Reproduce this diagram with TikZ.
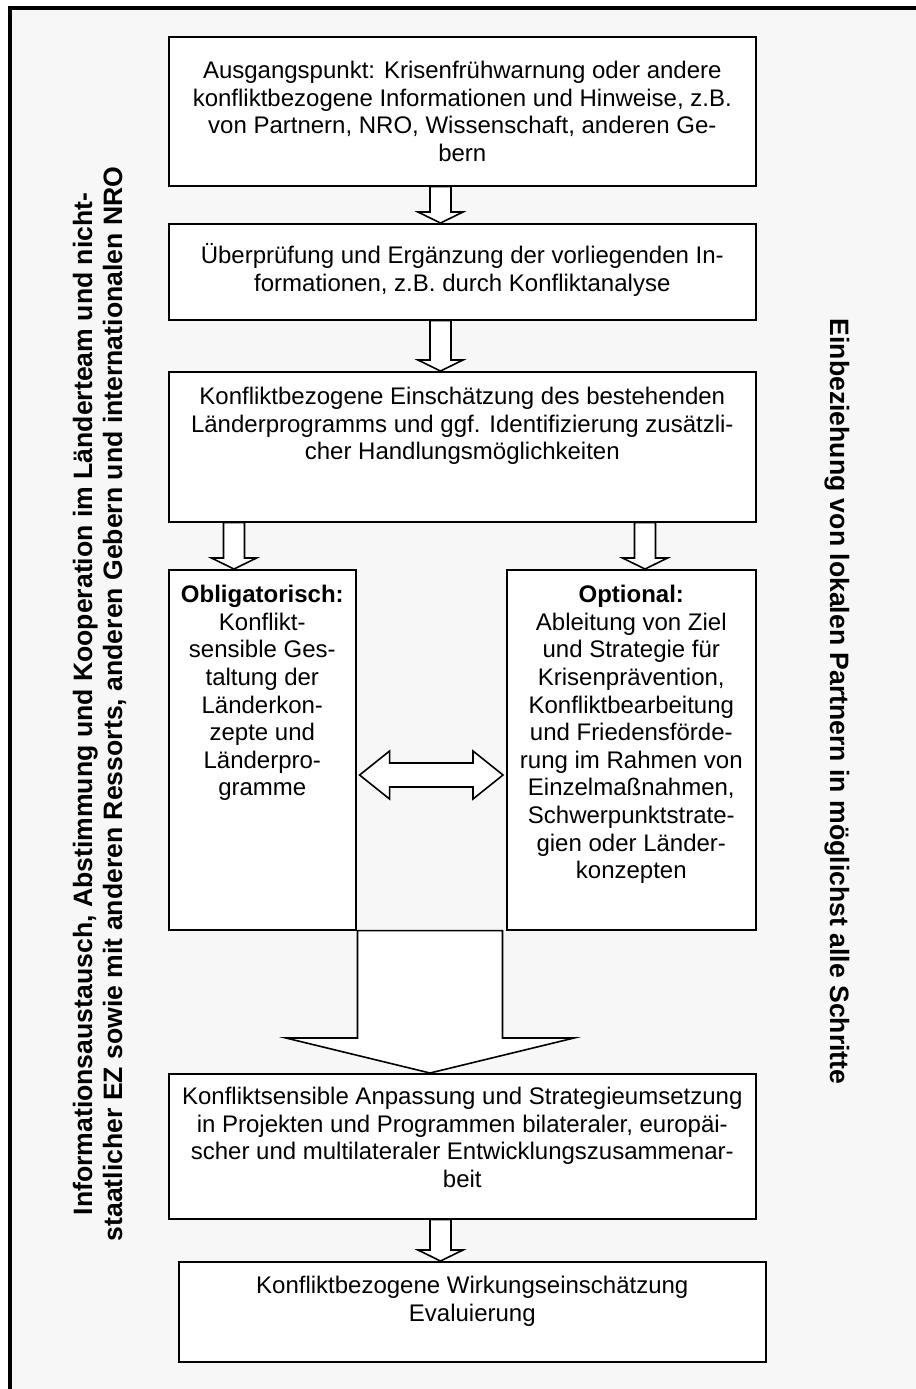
\documentclass[tikz,border=0pt]{standalone}
\usepackage{fontspec}
\setmainfont{Liberation Sans}
\usetikzlibrary{calc}
\definecolor{framegrey}{HTML}{F7F7F7}
% Kasteninhalt: Breite, Hoehe, Abstand oben, Text
\newcommand{\boxtext}[4]{\parbox[c][#2][t]{#1}{\vspace*{#3}\centering\strut#4}}
\tikzset{
	stepbox/.style = {draw=black, fill=white, line width=0.8pt, inner sep=0pt,
		anchor=north west, font=\fontsize{12}{13.8}\selectfont},% Kasten
	sidetext/.style = {align=center, inner sep=0pt, anchor=base,
		font=\fontsize{13.3}{15}\selectfont\bfseries},% Randtext
	blockdown/.style n args = {3}{draw=black, fill=white, line width=0.8pt,
		to path={-- ($(\tikztostart)+(#1,0)$) -- ($(\tikztotarget)+(#1,-#3)$)
			-- ($(\tikztotarget)+(#2,-#3)$) -- (\tikztotarget)
			-- ($(\tikztotarget)+(-#2,-#3)$) -- ($(\tikztotarget)+(-#1,-#3)$)
			-- ($(\tikztostart)+(-#1,0)$) -- cycle}},% Blockpfeil nach unten
	blockboth/.style n args = {3}{draw=black, fill=white, line width=0.8pt,
		to path={-- ($(\tikztostart)+(#3,-#2)$) -- ($(\tikztostart)+(#3,-#1)$)
			-- ($(\tikztotarget)+(-#3,-#1)$) -- ($(\tikztotarget)+(-#3,-#2)$)
			-- (\tikztotarget) -- ($(\tikztotarget)+(-#3,#2)$)
			-- ($(\tikztotarget)+(-#3,#1)$) -- ($(\tikztostart)+(#3,#1)$)
			-- ($(\tikztostart)+(#3,#2)$) -- cycle}}% Doppelpfeil
}

\begin{document}
\begin{tikzpicture}[x=0.5pt, y=-0.5pt]
	\useasboundingbox (0,0) rectangle (916,1389);
	\fill[white] (0,0) rectangle (916,1389);
	\draw[line width=2pt, fill=framegrey] (9.5,8) rectangle (940,1420);
	% Achsen der Pfeile
	\coordinate (ax1) at (440.5,0);
	\coordinate (ax2) at (234,0);
	\coordinate (ax3) at (645,0);
	\coordinate (ax4) at (430,0);
	\coordinate (dbl) at (0,775);
	% Kaesten
	\node[stepbox] (start) at (168,36) {\boxtext{293.5pt}{74.5pt}{11.3pt}{Ausgangspunkt: Krisenfrühwarnung oder andere\\konfliktbezogene Informationen und Hinweise, z.B.\\von Partnern, NRO, Wissenschaft, anderen Ge-\\bern}};
	\node[stepbox] (check) at (168,223) {\boxtext{293.5pt}{48pt}{9.8pt}{Überprüfung und Ergänzung der vorliegenden In-\\formationen, z.B. durch Konfliktanalyse}};
	\node[stepbox] (assess) at (168,371) {\boxtext{293.5pt}{75pt}{6.8pt}{Konfliktbezogene Einschätzung des bestehenden\\Länderprogramms und ggf. Identifizierung zusätzli-\\cher Handlungsmöglichkeiten}};
	\node[stepbox] (oblig) at (168,569) {\boxtext{93.5pt}{180pt}{6.8pt}{\textbf{Obligatorisch:}\\Konflikt-\\sensible Ges-\\taltung der\\Länderkon-\\zepte und\\Länderpro-\\gramme}};
	\node[stepbox] (option) at (506,569) {\boxtext{124.5pt}{180pt}{6.8pt}{\textbf{Optional:}\\Ableitung von Ziel\\und Strategie für\\Krisenprävention,\\Konfliktbearbeitung\\und Friedensförde-\\rung im Rahmen von\\Einzelmaßnahmen,\\Schwerpunktstrate-\\gien oder Länder-\\konzepten}};
	\node[stepbox] (adapt) at (168,1073) {\boxtext{293.5pt}{72.5pt}{5.8pt}{Konfliktsensible Anpassung und Strategieumsetzung\\in Projekten und Programmen bilateraler, europäi-\\scher und multilateraler Entwicklungszusammenar-\\beit}};
	\node[stepbox] (evaluate) at (178,1261) {\boxtext{293.5pt}{50pt}{6.3pt}{Konfliktbezogene Wirkungseinschätzung\\Evaluierung}};
	% Pfeile
	\draw[blockdown={10.5}{22.5}{11}] (start.south -| ax1) to (check.north -| ax1);
	\draw[blockdown={10.5}{22.5}{11}] (check.south -| ax1) to (assess.north -| ax1);
	\draw[blockdown={10.5}{22.5}{11}] (assess.south -| ax2) to (oblig.north -| ax2);
	\draw[blockdown={10.5}{22.5}{11}] (assess.south -| ax3) to (option.north -| ax3);
	\draw[blockboth={12}{24}{30}] ($(oblig.east |- dbl)+(3,0)$) to ($(option.west |- dbl)+(-3,0)$);
	\draw[blockdown={72.5}{144}{35}] (oblig.south -| ax4) to (adapt.north -| ax4);
	\draw[blockdown={10.5}{22.5}{11}] (adapt.south -| ax1) to (evaluate.north -| ax1);
	% Randtexte
	\node[sidetext, rotate=90] (exchange) at (122,704) {Informationsaustausch, Abstimmung und Kooperation im Länderteam und nicht-\\staatlicher EZ sowie mit anderen Ressorts, anderen Gebern und internationalen NRO};
	\node[sidetext, rotate=-90] (partners) at (830,701.5) {Einbeziehung von lokalen Partnern in möglichst alle Schritte};
\end{tikzpicture}
\end{document}
